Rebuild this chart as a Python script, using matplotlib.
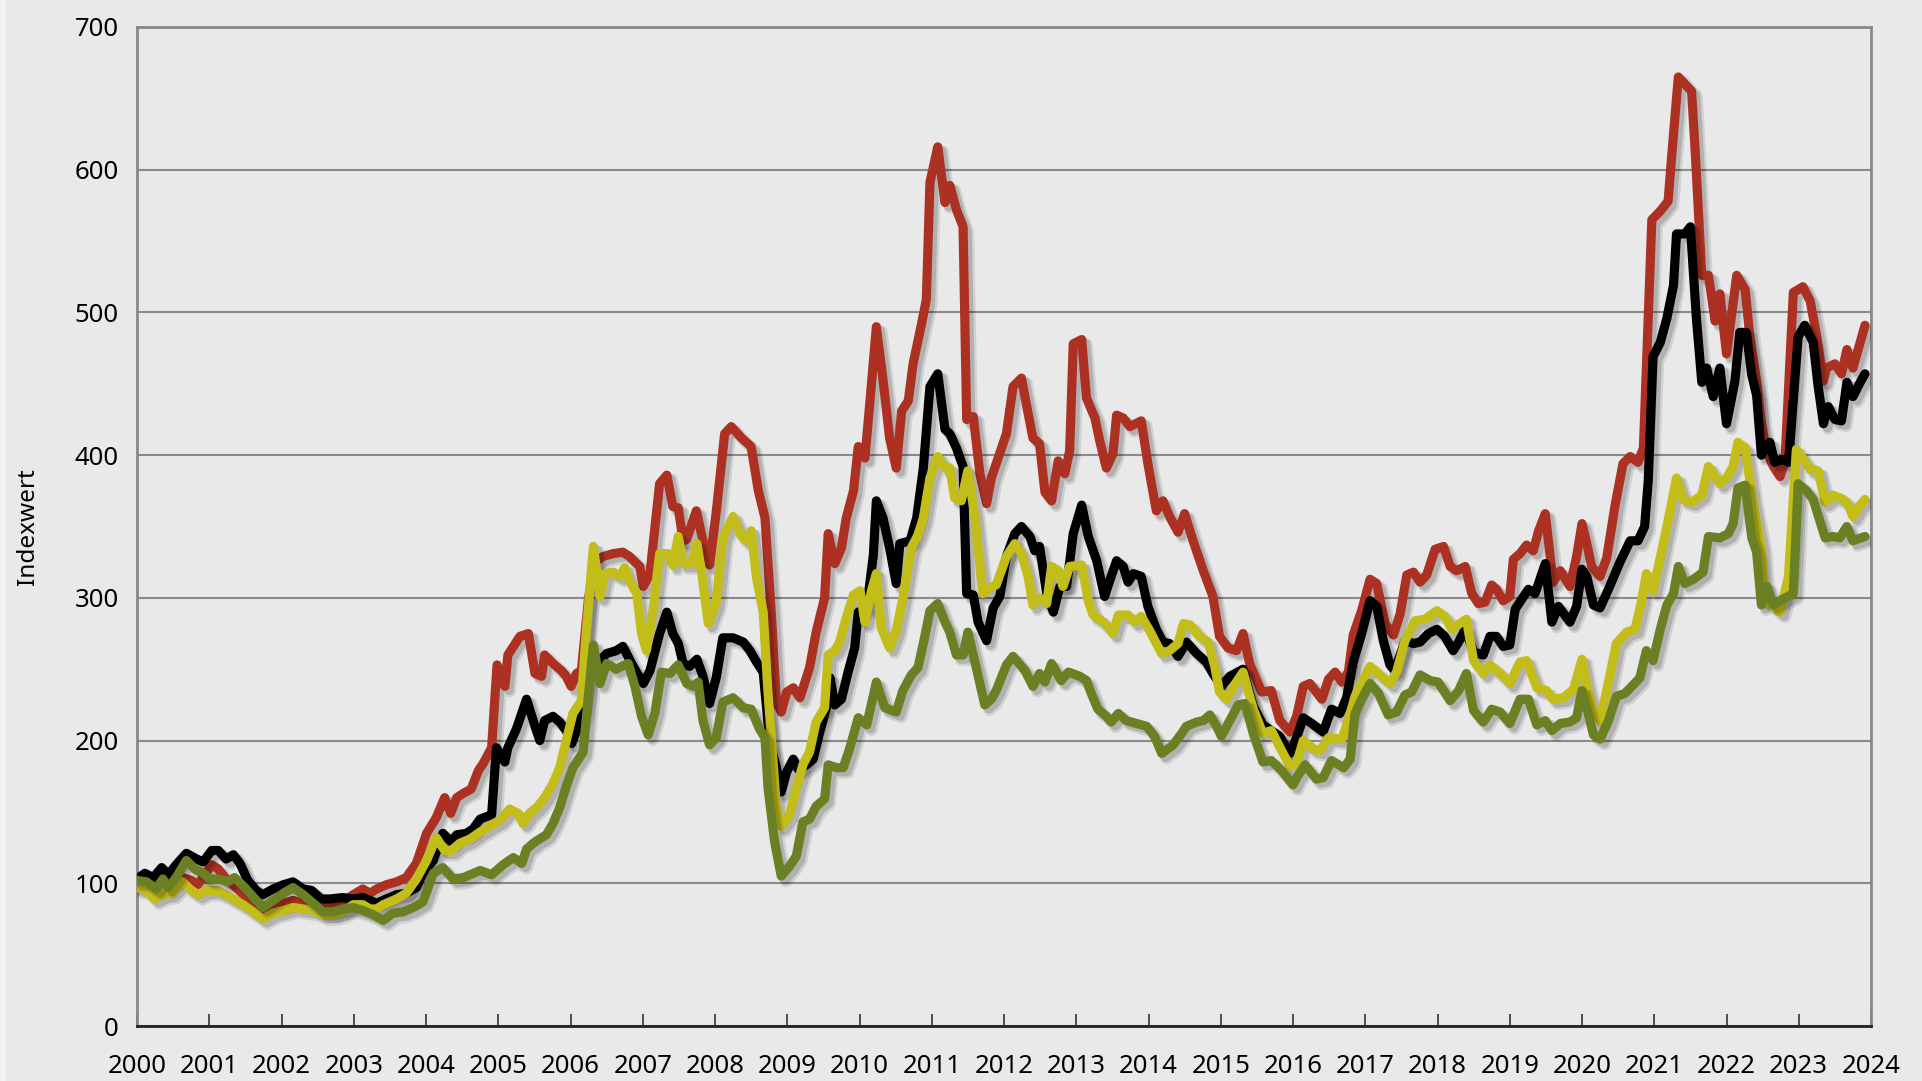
import matplotlib
matplotlib.use("Agg")
import matplotlib.pyplot as plt
import matplotlib.patheffects as pe
import numpy as np

plt.rcParams['font.family'] = ['Noto Sans', 'DejaVu Sans']

# months since Jan 2000, index values (2000 = 100)
red_m = [0, 1.6, 2.9, 4.3, 5.7, 7.6, 9, 10.1, 11.3, 12.4, 13.5, 14.8, 16.5, 18.2, 19.8, 20.9, 22.6, 24.3, 25.9, 27.6,
         29.3, 30.9, 32.6, 34.2, 35.9, 37.5, 38.7, 39.8, 41.4, 43.1, 44.7, 46.4, 48.1, 49.7, 51.1, 52.1, 53.1, 54.2,
         55.5, 56.7, 57.5, 58.9, 59.8, 61.1, 61.6, 63.6, 65, 66.1, 67.2, 67.7, 69.1, 70.5, 71.3, 72.1, 73, 73.8, 75,
         76, 77.4, 79.1, 80.7, 81.8, 83.5, 84.1, 85.2, 86.8, 88, 89, 89.9, 90.7, 91.3, 92.9, 94, 95.1, 96.2, 97.6,
         98.7, 100.4, 102, 103.2, 104.3, 105.4, 106.2, 107, 107.9, 109, 110.1, 111.7, 112.8, 114.2, 114.8, 115.9, 117,
         117.8, 119, 119.8, 120.9, 121.7, 122.8, 123.9, 125, 126.1, 127, 128.1, 128.9, 130.3, 131.1, 131.7, 133,
         134.2, 135, 136.1, 137.2, 137.8, 138.9, 140, 141.1, 141.9, 142.7, 144.4, 145.5, 146.9, 147.7, 148.8, 149.9,
         150.8, 151.9, 153, 154.1, 154.9, 155.5, 156.9, 157.7, 159.1, 159.9, 161, 162.1, 162.7, 163.8, 164.9, 166.8,
         167.9, 169.3, 170.4, 171.5, 172.9, 174, 175.4, 177.1, 178.7, 179.8, 181.2, 182.6, 183.7, 184.8, 186.8, 188.4,
         189.8, 191.5, 192.6, 193.7, 194.8, 196.8, 197.9, 199, 200.1, 201.2, 202, 203.4, 204.8, 205.9, 207.3, 208.7,
         209.8, 210.9, 212, 213.1, 214.2, 215.6, 217, 218.1, 219.2, 220.6, 221.7, 222.8, 223.9, 225, 225.8, 226.9,
         228, 228.6, 229.7, 230.8, 231.9, 232.8, 233.9, 235.2, 236.4, 238, 239.1, 240, 240.8, 241.6, 243, 244.1,
         245.5, 246.8, 248, 249.3, 250.2, 251.6, 253, 254.3, 254.9, 256, 258.2, 258.8, 259.9, 261, 262.1, 262.9, 264,
         265.7, 267.1, 267.9, 269, 269.8, 270.7, 271.8, 272.9, 273.7, 275.1, 276.7, 277.9, 279, 280.1, 280.6, 282,
         283.1, 284, 285, 287]
red_v = [100, 102, 99, 101, 102, 104, 102, 99, 106, 113, 110, 103, 97, 90, 86, 82, 85, 86, 88, 86,
         87, 86, 86, 87, 92, 96, 93, 96, 99, 101, 104, 114, 135, 146, 160, 149, 160, 163,
         166, 179, 184, 195, 253, 238, 260, 273, 275, 247, 245, 260, 254, 249, 245, 238, 247, 249, 300,
         325, 329, 331, 332, 329, 322, 308, 317, 380, 386, 364, 363, 340, 341, 361, 340, 323, 360, 415,
         420, 412, 406, 375, 356, 286, 227, 220, 234, 237, 230, 251, 276, 300, 345, 324, 335,
         356, 375, 406, 398, 436, 490, 453, 412, 391, 431, 438, 464, 492, 509, 591, 616,
         577, 589, 572, 560, 425, 427, 387, 366, 384, 394, 415, 448, 454, 436, 412, 408,
         374, 368, 396, 387, 403, 478, 481, 440, 426, 410, 391, 401, 428, 426, 420, 424,
         394, 361, 368, 357, 346, 359, 340, 319, 301, 273, 265, 263, 275, 254, 234, 235,
         214, 206, 217, 238, 240, 229, 243, 248, 241, 248, 274, 291, 313, 310, 282, 274,
         289, 316, 318, 311, 316, 334, 336, 322, 319, 322, 303, 296, 297, 309, 306, 298,
         301, 327, 331, 337, 333, 347, 359, 311, 319, 308, 329, 352, 338, 322, 315, 328,
         365, 394, 399, 395, 405, 565, 571, 578, 610, 665, 655, 613, 526, 526, 494, 513, 471,
         526, 516, 482, 452, 422, 402, 392, 385, 395, 514, 518, 508, 483, 452, 461, 464,
         457, 474, 461, 491]

black_m = [0, 1.3, 2.7, 4.1, 5.2, 6.5, 8.2, 9.9, 11, 12.4, 13.5, 14.8, 16, 17.1, 18.4, 19.8, 20.9, 22.6, 24.3, 25.9,
           27.6, 29, 30.6, 32, 34.2, 35.9, 37.5, 38.7, 39.8, 41.4, 43.1, 44.7, 46.4, 47.5, 49.2, 50.8, 52.2, 53.1,
           54.7, 55.8, 57, 58.9, 59.7, 61.1, 61.6, 63, 64.7, 66.1, 66.9, 67.7, 69.1, 70.2, 71.3, 72.2, 73, 74.1, 75.2,
           76.9, 78, 79.6, 80.7, 82.4, 84.1, 85.2, 86.8, 88, 89, 89.9, 90.7, 91.8, 93, 94, 95.1, 96.2, 97.3, 99,
           100.7, 101.8, 102.9, 104, 105.1, 106.2, 107, 107.9, 109, 109.8, 111.2, 112.3, 113.4, 114.5, 115.1, 115.9,
           117, 118.1, 119.2, 119.8, 121.2, 122.3, 122.8, 123.9, 125, 126.1, 126.7, 128.4, 129.5, 130.6, 131.7, 133,
           134.2, 135, 136.1, 137.2, 137.8, 138.9, 139.7, 141.1, 142.2, 143.3, 144.4, 145.8, 146.9, 148.3, 149.1,
           149.9, 151.1, 152.2, 153.3, 154.4, 155.5, 156.9, 158, 159.4, 160.7, 161.8, 162.7, 163.8, 164.6, 165.5,
           166.8, 167.9, 169.3, 170.4, 171.5, 172.9, 174.3, 176, 177.6, 178.7, 180.1, 181.5, 183.7, 185.4, 187, 188.4,
           189.8, 191.5, 192.6, 193.7, 195.1, 197, 198.4, 199.8, 200.9, 202, 203.4, 204.8, 205.9, 207, 208.1, 208.9,
           210.6, 212, 213.1, 214.5, 215.9, 217.2, 218.6, 219.5, 220.6, 222, 223.6, 224.7, 225.8, 226.9, 228, 228.9,
           230.3, 231.1, 232.2, 233.9, 235, 236.1, 238, 239.1, 240, 240.8, 241.9, 243, 244.6, 246.3, 248, 249.3,
           250.4, 251, 251.8, 253, 254.1, 255.2, 255.7, 257.1, 258, 259, 259.9, 260.7, 261.8, 262.9, 264, 265.4,
           266.2, 267.3, 268.2, 269, 269.8, 271.2, 272, 273.2, 274.3, 275.9, 277, 278.4, 279.2, 280.1, 280.9, 282,
           283.1, 284, 285, 286.2, 287]
black_v = [103, 107, 104, 111, 106, 113, 121, 117, 115, 123, 123, 117, 120, 114, 102, 95, 92, 96, 99, 101,
           96, 95, 89, 89, 90, 89, 90, 88, 86, 89, 92, 93, 97, 107, 116, 135, 129, 134,
           135, 138, 145, 148, 195, 185, 195, 208, 229, 210, 200, 214, 217, 213, 207, 198, 207, 221, 254,
           256, 261, 263, 266, 252, 240, 249, 275, 290, 275, 268, 254, 252, 257, 245, 226, 244, 272, 272,
           269, 263, 255, 248, 199, 181, 164, 178, 187, 180, 183, 187, 206, 223, 244, 225,
           229, 248, 265, 290, 293, 330, 368, 356, 335, 310, 338, 340, 356, 391, 448, 457,
           418, 415, 405, 392, 303, 302, 283, 270, 293, 301, 329, 345, 350, 343, 333,
           336, 303, 290, 308, 308, 345, 365, 343, 326, 301, 315, 326, 322, 311, 317,
           315, 294, 278, 269, 268, 259, 269, 261, 255, 247, 238, 245, 250, 224, 211, 207,
           203, 191, 202, 216, 212, 206, 222, 219, 230, 255, 275, 298, 294, 270, 253, 249,
           270, 268, 269, 275, 278, 273, 263, 269, 278, 262, 260, 273, 273, 266, 267, 292,
           301, 306, 303, 324, 283, 294, 283, 294, 320, 315, 295, 293, 308, 325, 340, 340,
           350, 382, 469, 479, 496, 519, 555, 555, 560, 496, 451, 461, 441, 461, 422, 452,
           486, 486, 456, 442, 400, 409, 395, 397, 395, 483, 491, 479, 449, 422, 434, 425,
           424, 451, 441, 451, 457]

yellow_m = [0, 1.6, 2.9, 4.3, 5.7, 7.6, 8.8, 10.1, 11.5, 13.2, 14.8, 16, 17.6, 19.3, 20.9, 22.6, 24.3, 25.9, 27.6,
            29.3, 30.9, 32.6, 34.2, 35.9, 37.5, 38.7, 39.8, 40.9, 43.1, 44.7, 46.4, 48.1, 49.7, 51.1, 52.2, 53.6,
            55.3, 57, 58.9, 60.2, 61.9, 63.3, 64.1, 65.2, 66.6, 67.7, 69.1, 70.2, 71.3, 72.4, 73.8, 74.6, 75.8, 76.9,
            77.7, 79.1, 80.2, 81, 81.8, 83, 83.8, 84.6, 85.7, 86.8, 88.2, 89, 89.9, 90.7, 92.1, 93, 93.8, 94.9, 96.2,
            97.3, 99, 100.4, 101.2, 102, 102.9, 104, 104.8, 106.2, 107, 108.4, 109.5, 110.6, 111.7, 112.8, 114.2,
            114.8, 115.9, 116.7, 117.8, 119, 120.1, 120.9, 122, 122.8, 123.6, 125, 126.1, 127.2, 128.6, 129.7, 130.6,
            131.7, 133, 134.2, 135, 135.8, 136.9, 138, 139.1, 140.5, 141.6, 142.7, 144.4, 145.8, 146.9, 148, 148.8,
            149.9, 151.1, 151.9, 153, 153.8, 154.9, 156.9, 158, 158.8, 159.9, 161, 162.1, 163, 164.6, 165.7, 166.8,
            168.2, 169.3, 170.2, 171.5, 172.9, 173.8, 174.9, 176.5, 177.9, 179, 179.8, 181, 182.6, 183.7, 185.4, 187,
            188.4, 190.1, 191.5, 192.6, 193.7, 195.4, 196.5, 197.9, 200.1, 201.2, 202.3, 204.8, 206.7, 208.1, 209.2,
            210.6, 212.3, 213.9, 215.9, 217.2, 218.4, 219.7, 220.8, 222, 223.6, 224.7, 226.7, 228, 229.7, 230.8,
            232.5, 234.1, 235.2, 236.9, 238.6, 240, 240.8, 241.9, 243, 244.4, 245.7, 247.4, 248.8, 249.9, 250.7,
            251.8, 253, 254.1, 254.9, 255.7, 256.8, 258.2, 259.9, 261, 262.9, 264, 265.1, 265.9, 267.1, 268.4, 269.8,
            270.4, 271.5, 272.9, 274.3, 275.6, 276.8, 277.9, 279.2, 280.4, 281.7, 283.4, 284, 285, 286, 287]
yellow_v = [97, 95, 89, 92, 93, 101, 96, 92, 95, 95, 92, 89, 85, 80, 75, 79, 81, 83, 82,
            81, 78, 78, 80, 85, 85, 82, 82, 85, 89, 93, 103, 116, 132, 123, 123, 128,
            131, 136, 141, 144, 152, 149, 142, 149, 154, 160, 170, 181, 200, 219, 228, 275, 336, 301,
            317, 318, 315, 321, 312, 303, 275, 263, 291, 331, 331, 323, 343, 324, 324, 338, 317, 282, 297,
            342, 357, 343, 340, 347, 314, 290, 234, 153, 140, 148, 167, 183, 192, 213, 223,
            260, 263, 269, 286, 302, 305, 283, 305, 317, 279, 265, 277, 300, 335, 344, 356,
            384, 399, 391, 391, 370, 368, 389, 359, 303, 307, 309, 329, 338, 331, 315, 295,
            300, 296, 322, 319, 308, 322, 323, 298, 288, 285, 281, 275, 288, 288, 283, 287,
            277, 268, 261, 263, 268, 282, 281, 273, 269, 252, 234, 229, 241, 248, 222, 205,
            207, 193, 182, 184, 200, 194, 193, 202, 201, 214, 231, 252, 245, 240, 248,
            270, 284, 285, 291, 287, 278, 282, 285, 256, 247, 253, 246, 240, 255, 256,
            237, 235, 229, 230, 236, 257, 238, 221, 214, 241, 268, 276, 278, 298, 317,
            305, 328, 350, 367, 384, 369, 367, 372, 392, 380, 384, 392, 409, 405, 367, 335,
            298, 295, 290, 315, 404, 397, 390, 389, 367, 372, 369, 367, 357, 364, 369]

green_m = [0, 1.6, 3.2, 4.3, 5.2, 6.5, 8.2, 9.6, 11, 12.1, 13.7, 15.1, 16.2, 17.9, 19.6, 20.9, 22.6, 24.3, 25.9,
           27.6, 29.3, 30.9, 32.6, 34.2, 35.9, 37.5, 39.2, 40.9, 42.5, 44.2, 45.9, 47.5, 49.2, 50.8, 52.5, 54.2, 57,
           58.9, 60.8, 62.5, 63.9, 64.7, 66.1, 68, 69.1, 70.2, 71.3, 72.4, 74.1, 74.9, 75.8, 76.9, 78, 79.6, 80.5,
           81.6, 82.7, 83.8, 84.9, 86, 87.1, 88.5, 89.9, 91.3, 92.4, 93.2, 94, 95.1, 96.2, 97.3, 99, 100.7, 102,
           103.4, 104.3, 104.8, 105.9, 107, 108.4, 109.5, 110.6, 111.7, 112.8, 114.2, 114.8, 116.2, 117.3, 118.4,
           119.8, 121.2, 122.8, 124.2, 126.1, 127.2, 128.6, 129.7, 130.8, 131.7, 133, 134.2, 135, 136.1, 137.2, 138,
           139.4, 140.8, 141.9, 142.7, 144.4, 145.5, 147.5, 148.8, 149.9, 150.8, 151.9, 153.5, 154.7, 156.6, 157.7,
           158.5, 159.6, 161, 161.8, 163, 164.3, 166, 167.7, 169, 170.2, 172.1, 173.5, 174.3, 176, 177.1, 178.2,
           179.3, 180.1, 181.5, 182.9, 184, 185.4, 187, 188.4, 190.1, 192, 192.6, 194, 195.9, 197, 198.4, 200.4,
           201.5, 202.3, 203.4, 204.8, 206.2, 207.8, 209.2, 210.6, 211.7, 213.1, 214.8, 216.1, 218.1, 219.5, 220.8,
           222, 223.6, 225, 226.4, 228, 229.7, 231.1, 232.5, 233.9, 235, 236.4, 238, 239.1, 240, 240.8, 241.9, 243,
           244.4, 245.7, 247.1, 248.5, 249.6, 250.7, 251.8, 253, 254.1, 255.2, 256, 257.1, 258.5, 260.1, 261, 262.9,
           264.3, 265.1, 265.9, 267.1, 268.2, 269, 269.8, 270.7, 271.8, 272.9, 275.1, 275.9, 277.3, 278.4, 279.2,
           280.4, 281.7, 282.8, 284, 285, 287]
green_v = [102, 101, 96, 103, 97, 104, 116, 110, 107, 103, 103, 101, 104, 97, 89, 83, 88, 93, 97,
           92, 86, 80, 80, 82, 83, 81, 78, 74, 79, 80, 83, 87, 107, 111, 103, 104, 109,
           106, 113, 118, 114, 124, 129, 134, 142, 153, 168, 181, 192, 228, 267, 240, 254, 250, 252,
           254, 238, 217, 204, 219, 248, 247, 253, 240, 238, 241, 214, 197, 202, 227, 230, 223, 222,
           208, 202, 167, 129, 105, 112, 119, 143, 145, 154, 159, 183, 181, 181, 195,
           216, 211, 241, 223, 220, 235, 246, 251, 272, 291, 296, 283, 276, 260, 260, 276,
           251, 225, 229, 235, 253, 259, 249, 238, 247, 241, 254, 242, 248, 245, 242,
           233, 222, 217, 213, 219, 214, 212, 210, 203, 191, 197, 205, 210, 213, 214, 218,
           210, 203, 214, 225, 226, 205, 185, 186, 179, 169, 174, 183, 173, 174, 186, 181,
           187, 219, 229, 240, 233, 218, 220, 232, 234, 246, 242, 241, 228, 235, 247,
           221, 213, 222, 220, 212, 229, 229, 211, 214, 207, 212, 213, 216, 235, 223, 204, 201,
           214, 231, 233, 239, 244, 263, 256, 278, 295, 303, 322, 310, 313, 318, 343, 342,
           345, 352, 377, 379, 342, 332, 295, 308, 295, 298, 303, 380, 375, 369, 358,
           342, 343, 342, 350, 340, 343]

years = list(range(2000, 2025))
yticks = [0, 100, 200, 300, 400, 500, 600, 700]

series = [
    (red_m, red_v, '#ad3122'),
    (black_m, black_v, '#000000'),
    (yellow_m, yellow_v, '#c3bd1a'),
    (green_m, green_v, '#6b8023'),
]

bg = '#e9e9e9'
fig = plt.figure(figsize=(19.22, 10.81), dpi=100, facecolor=bg)
fig.patches.append(plt.Rectangle((0, 0), 6 / 1922, 1, transform=fig.transFigure,
                                 facecolor='#f3f3f3', edgecolor='none', zorder=0))
ax = fig.add_axes([137 / 1922, 1 - 1026 / 1081, (1871 - 137) / 1922, (1026 - 27) / 1081])
ax.set_facecolor(bg)

for m, v, c in series:
    x = 2000 + np.array(m) / 12.0
    ax.plot(x, v, color=c, lw=6.6, solid_joinstyle='round', solid_capstyle='round', zorder=3,
            path_effects=[pe.SimpleLineShadow(offset=(3.5, -3.5), shadow_color='#000000', alpha=0.10,
                                              linewidth=9),
                          pe.SimpleLineShadow(offset=(3, -3), shadow_color='#000000', alpha=0.15),
                          pe.Normal()])

ax.set_xlim(2000, 2024)
ax.set_ylim(0, 700)
ax.set_xticks(years)
ax.set_xticklabels([str(y) for y in years])
ax.set_yticks(yticks)
ax.yaxis.grid(True, color='#8a8a8a', lw=1.5)
ax.set_axisbelow(True)

ax.tick_params(axis='x', direction='in', length=9, width=1.2, color='#333333', labelsize=18.5, pad=20)
ax.tick_params(axis='y', length=0, labelsize=18.5, pad=13)

for s in ['top', 'right', 'left']:
    ax.spines[s].set_color('#888888')
    ax.spines[s].set_linewidth(2)
ax.spines['bottom'].set_color('#222222')
ax.spines['bottom'].set_linewidth(2)

ax.set_ylabel('Indexwert', fontsize=17.5)
ax.yaxis.set_label_coords(-0.056, 0.5)

fig.savefig('out.png', dpi=100, facecolor=bg)
